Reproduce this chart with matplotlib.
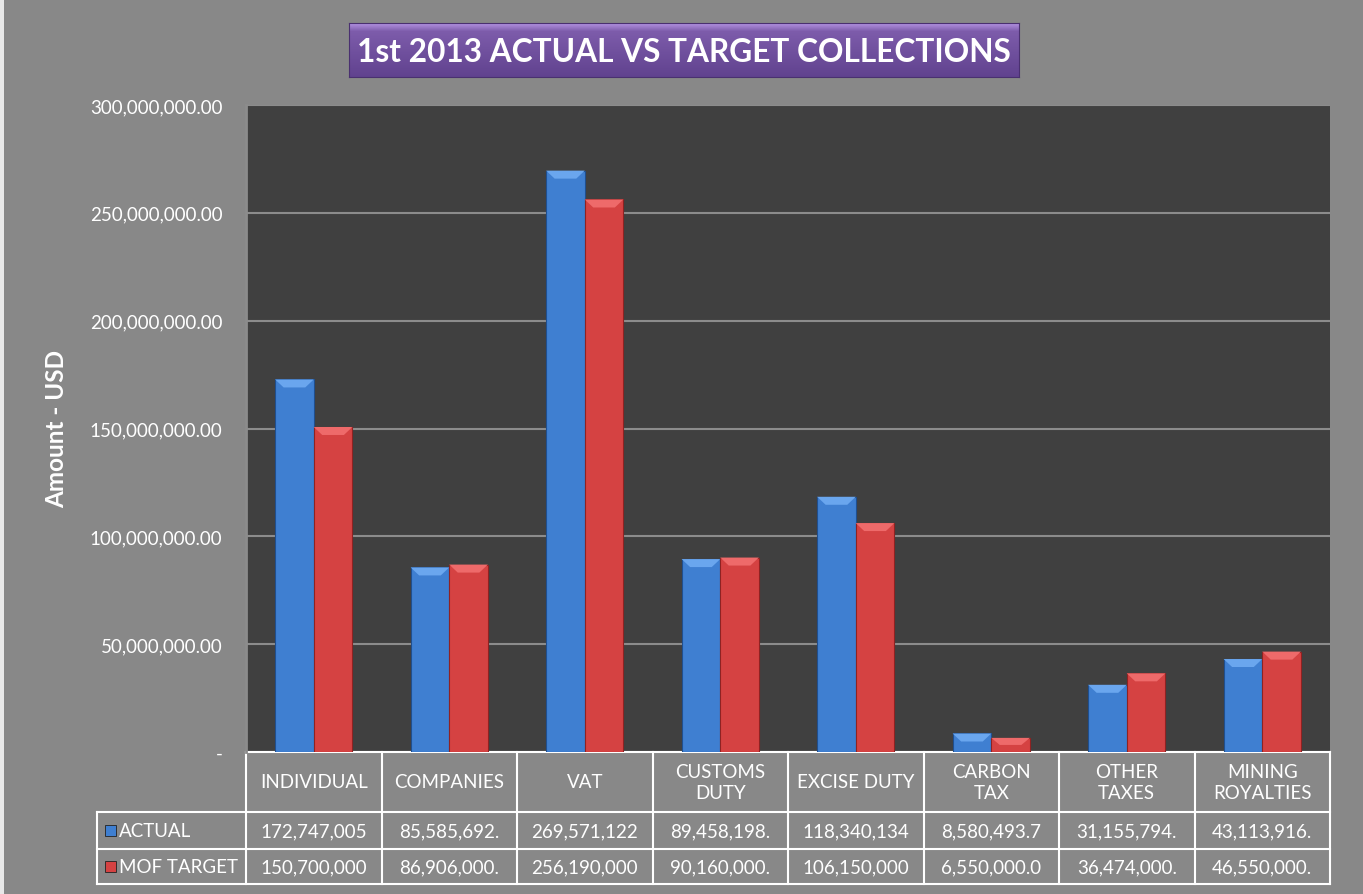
import numpy as np
import matplotlib
matplotlib.use("Agg")
import matplotlib.pyplot as plt
from matplotlib.patches import Rectangle, Polygon

categories = ["INDIVIDUAL", "COMPANIES", "VAT", "CUSTOMS\nDUTY", "EXCISE DUTY",
              "CARBON\nTAX", "OTHER\nTAXES", "MINING\nROYALTIES"]
actual = [172747005.00, 85585692.00, 269571122.00, 89458198.00, 118340134.00,
          8580493.70, 31155794.00, 43113916.00]
target = [150700000.00, 86906000.00, 256190000.00, 90160000.00, 106150000.00,
          6550000.00, 36474000.00, 46550000.00]
series = ["ACTUAL", "MOF TARGET"]
yticks = [0, 50e6, 100e6, 150e6, 200e6, 250e6, 300e6]

font = "Lato"
bg = "#888888"
blue = "#3f7fd1"
red = "#d54242"
blue_cap = "#6aa6ee"
red_cap = "#ee6a6a"

W, H = 1363, 895
fig = plt.figure(figsize=(W / 100, H / 100), dpi=100, facecolor=bg)
plt.rcParams['font.family'] = [font, 'DejaVu Sans']

ax = fig.add_axes([246 / W, 1 - 753 / H, (1330 - 246) / W, (753 - 106) / H])
ax.set_facecolor("#404040")
x = np.arange(len(categories))
bw = 0.285
b1 = ax.bar(x - bw / 2, actual, bw, color=blue, edgecolor="#1f4f8f", lw=0.8, zorder=3)
b2 = ax.bar(x + bw / 2, target, bw, color=red, edgecolor="#8f2222", lw=0.8, zorder=3)
ax.set_xlim(-0.5, len(categories) - 0.5)
ax.set_ylim(0, 300e6)

# bevelled top on each bar
ph = (753 - 106)
cap = 8 / ph * 300e6
for bars, cc in [(b1, blue_cap), (b2, red_cap)]:
    for p in bars:
        x0, w, h = p.get_x(), p.get_width(), p.get_height()
        c = min(cap, h * 0.5)
        d = w * 0.22
        ax.add_patch(Polygon([(x0, h), (x0 + w, h), (x0 + w - d, h - c), (x0 + d, h - c)],
                             closed=True, facecolor=cc, edgecolor="none", zorder=4))

ax.set_yticks(yticks)
ax.set_yticklabels(["-" if v == 0 else f"{v:,.2f}" for v in yticks],
                   color="white", fontsize=13.5)
ax.tick_params(axis="y", length=0, pad=17)
ax.set_xticks([])
ax.grid(axis="y", color="#8c8c8c", lw=1.5, zorder=1)
for s in ["top", "right", "bottom"]:
    ax.spines[s].set_visible(False)
ax.spines["left"].set_color("#8c8c8c")
ax.spines["left"].set_linewidth(2)
ax.set_ylabel("Amount - USD", color="white", fontsize=17.5, fontweight="bold")
ax.yaxis.set_label_coords((68 - 246) / 1084, 0.5)

# data table under the plot
n = len(categories)
tr = ax.transAxes
def yfrac(py):
    return (753 - py) / ph
lab_left = (97 - 246) / (1330 - 246)
rows_y = [753, 813, 850, 885]
lc = "white"
lw = 1.5
for i in range(n + 1):
    xx = i / n
    ax.plot([xx, xx], [yfrac(753), yfrac(885)], transform=tr, color=lc, lw=lw, clip_on=False)
ax.plot([lab_left, lab_left], [yfrac(813), yfrac(885)], transform=tr, color=lc, lw=lw, clip_on=False)
ax.plot([0, 1], [yfrac(753)] * 2, transform=tr, color=lc, lw=lw, clip_on=False)
for py in rows_y[1:]:
    ax.plot([lab_left, 1], [yfrac(py)] * 2, transform=tr, color=lc, lw=lw, clip_on=False)

for i, c in enumerate(categories):
    ax.text((i + 0.5) / n, yfrac(783), c, transform=tr, ha="center", va="center",
            color="white", fontsize=13.5, linespacing=1.25)
for r, (name, vals, col) in enumerate(zip(series, [actual, target], [blue, red])):
    cy = yfrac((rows_y[r + 1] + rows_y[r + 2]) / 2)
    for i, v in enumerate(vals):
        ax.text((i + 0.5) / n, cy, f"{v:,.2f}"[:11], transform=tr, ha="center",
                va="center", color="white", fontsize=13.5)
    ax.add_patch(Rectangle((lab_left + 8 / 1084, cy - 5.5 / ph), 11 / 1084, 11 / ph,
                           transform=tr, facecolor=col, edgecolor="#222222", lw=0.6,
                           clip_on=False))
    ax.text(lab_left + 22 / 1084, cy, name, transform=tr, ha="left", va="center",
            color="white", fontsize=13.5)

# title box with purple gradient
tax = fig.add_axes([349 / W, 1 - 78 / H, (1019 - 349) / W, (78 - 24) / H])
grad = np.linspace(0, 1, 60).reshape(-1, 1)
top_c = np.array([0.70, 0.57, 0.88])
mid_c = np.array([0.49, 0.36, 0.67])
bot_c = np.array([0.38, 0.26, 0.56])
img = np.where(grad < 0.15, top_c + (mid_c - top_c) * (grad / 0.15),
               mid_c + (bot_c - mid_c) * ((grad - 0.15) / 0.85))
tax.imshow(img.reshape(60, 1, 3), aspect="auto", extent=[0, 1, 0, 1])
tax.set_xticks([])
tax.set_yticks([])
for s in tax.spines.values():
    s.set_color("#4a3070")
tax.text(0.5, 0.47, "1st 2013 ACTUAL VS TARGET COLLECTIONS", ha="center", va="center",
         color="white", fontsize=22.8, fontweight="bold", transform=tax.transAxes)

# light left edge of the chart area
fig.patches.append(Rectangle((0, 0), 4 / W, 1, transform=fig.transFigure,
                             facecolor="#e8e8e8", edgecolor="none"))

fig.savefig("out.png", dpi=100, facecolor=bg)
